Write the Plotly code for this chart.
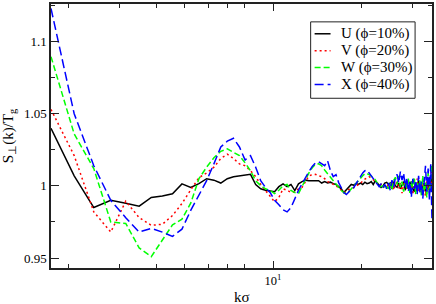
import math
import plotly.graph_objects as go

# wavevector grid: k = n * dk, n = 5..100
dk = math.pi / 9
n_index = list(range(5, 101))
k = [n * dk for n in n_index]

U_10 = [1.040, 1.007, 0.985, 0.990, 0.988, 0.986, 0.992, 0.993, 0.9945, 1.0014,
        0.999, 1.0016, 1.005, 1.004, 1.002, 1.005,
        1.0064, 1.007, 1.0078, 1.008, 1.001, 0.998, 0.997, 0.9964, 0.996, 0.9995,
        1.0014, 0.9995, 1.001, 0.9968, 1.0014, 1.003, 1.004, 1.0036, 1.0036, 1.004,
        1.0036, 1.002, 1.003, 1.002, 1.0026, 1.0016, 1.001, 0.9995, 0.998, 0.9954,
        0.9975, 0.9995, 1.001, 1.0005, 1.0016, 1.001, 1.002, 1.001, 1.0026, 1.0016,
        1.002, 1.003, 1.001, 1.0035, 1.002, 1.001, 0.999, 1.000, 1.002, 1.0025,
        1.001, 1.002, 0.998, 1.003, 1.000, 0.999, 1.002, 0.998, 1.001, 1.003,
        0.997, 1.002, 0.999, 1.001, 1.003, 0.998, 0.996, 1.002, 1.000, 1.004,
        0.997, 1.001, 0.998, 1.002, 0.996, 1.001, 0.997, 1.006, 1.000, 1.008]

V_20 = [1.053, 1.021, 0.982, 0.968, 0.9894, 0.978, 0.9727, 0.9734, 0.9795, 0.9878,
        0.9973, 1.0057, 1.009, 1.013, 1.019, 1.022,
        1.019, 1.0153, 1.014, 1.0105, 1.0064, 1.001, 0.9968, 0.9926, 0.989, 0.992,
        0.998, 0.997, 0.9954, 0.996, 0.998, 0.999, 1.0036, 1.007, 1.0078, 1.008,
        1.007, 1.0064, 1.005, 1.003, 1.0023, 1.001, 1.0002, 0.9988, 0.997, 0.9954,
        0.996, 0.9975, 0.998, 0.9988, 0.9995, 1.001, 1.0016, 1.0036, 1.005, 1.0057,
        1.0064, 1.005, 1.0043, 1.003, 1.0016, 1.0002, 1.001, 0.9995, 1.0002, 0.9988,
        1.001, 0.999, 1.002, 0.997, 1.001, 1.003, 0.998, 1.002, 0.995, 1.001,
        1.003, 0.998, 1.004, 0.996, 1.001, 0.994, 1.003, 0.999, 1.005, 0.996,
        1.002, 0.995, 1.004, 0.998, 0.993, 1.006, 0.997, 1.002, 0.999, 1.013]

W_30 = [1.0896, 1.036, 1.012, 0.975, 0.974, 0.957, 0.951, 0.962, 0.973, 0.977,
        0.988, 1.005, 1.013, 1.0195, 1.024, 1.0257,
        1.023, 1.021, 1.016, 1.0105, 1.0036, 1.0002, 0.998, 0.9968, 0.9947, 0.997,
        1.0002, 1.001, 0.9968, 0.9954, 0.9947, 0.9995, 1.005, 1.009, 1.0126, 1.015,
        1.0153, 1.014, 1.011, 1.0085, 1.0057, 1.003, 1.001, 0.9988, 0.9968, 0.9954,
        0.9947, 0.996, 0.998, 0.9995, 1.0016, 1.0036, 1.0057, 1.007, 1.0085, 1.0085,
        1.0078, 1.007, 1.0057, 1.0043, 1.002, 1.001, 0.9995, 1.0002, 0.998, 0.9995,
        0.998, 1.002, 0.997, 1.004, 1.006, 1.001, 1.007, 0.999, 1.003, 0.996,
        1.002, 0.998, 1.005, 0.995, 1.003, 0.999, 1.006, 0.994, 1.002, 0.997,
        1.004, 0.993, 1.007, 0.996, 1.003, 0.992, 1.009, 0.995, 1.004, 1.016]

X_40 = [1.123, 1.050, 1.014, 0.990, 0.978, 0.968, 0.9706, 0.968, 0.965, 0.970,
        0.983, 0.9933, 1.0036, 1.0153, 1.027, 1.031,
        1.033, 1.027, 1.018, 1.021, 1.013, 1.0036, 0.999, 0.9955, 0.990, 0.987,
        0.9835, 0.982, 0.985, 0.991, 0.997, 1.0015, 1.006, 1.010, 1.0135, 1.016,
        1.0167, 1.0153, 1.014, 1.0174, 1.0105, 1.0064, 1.0078, 1.0023, 0.9988, 0.9954,
        0.994, 0.996, 0.9975, 0.9988, 1.0016, 1.0043, 1.007, 1.009, 1.0105, 1.011,
        1.009, 1.007, 1.0057, 1.0036, 1.0016, 0.9995, 1.0016, 0.9988, 1.001, 0.998,
        1.002, 0.997, 1.004, 0.999, 1.006, 1.008, 1.002, 1.010, 1.004, 1.009,
        0.999, 1.006, 0.996, 1.003, 0.992, 1.005, 0.998, 1.004, 0.994, 1.007,
        0.995, 1.003, 0.991, 1.006, 1.014, 0.996, 1.012, 0.990, 1.015, 0.976]

names = ["U (ϕ=10%)", "V (ϕ=20%)", "W (ϕ=30%)", "X (ϕ=40%)"]
series = [U_10, V_20, W_30, X_40]
colors = ["#000000", "#ff0000", "#00ff00", "#0000ff"]
dashes = ["solid", "2px,3px", "6px,3px", "9px,4px"]

x_minor = [2, 3, 4, 5, 6, 7, 8, 20, 30]
y_major = [0.95, 1.0, 1.05, 1.1]
y_major_text = ["0.95", "1", "1.05", "1.1"]
y_minor = [0.975, 1.025, 1.075, 1.125]

FONT = "Liberation Serif, Times New Roman, serif"

fig = go.Figure()
for nm, ys, c, d in zip(names, series, colors, dashes):
    fig.add_trace(go.Scatter(x=k, y=ys, mode="lines", name=nm, showlegend=False,
                             line=dict(color=c, width=1.5, dash=d)))

# legend box drawn in paper coordinates (top-right inside the frame)
leg_x0, leg_x1, leg_y0, leg_y1 = 0.6815, 0.9556, 0.6429, 0.9323
row_y = [0.8872, 0.8233, 0.7594, 0.6955]
samp_x0, samp_x1, text_x = 0.6919, 0.7337, 0.7546

shapes = [dict(type="rect", xref="paper", yref="paper", x0=leg_x0, x1=leg_x1,
               y0=leg_y0, y1=leg_y1, line=dict(color="#222222", width=1),
               fillcolor="white", layer="above")]
annotations = []
for nm, c, d, ry in zip(names, colors, dashes, row_y):
    shapes.append(dict(type="line", xref="paper", yref="paper", x0=samp_x0, x1=samp_x1,
                       y0=ry, y1=ry, line=dict(color=c, width=1.5, dash=d), layer="above"))
    annotations.append(dict(text=nm, xref="paper", yref="paper", x=text_x, y=ry,
                            xanchor="left", yanchor="middle", showarrow=False,
                            font=dict(family=FONT, size=15, color="black")))
annotations.append(dict(text="kσ", xref="paper", yref="paper", x=0.5, y=-0.11,
                        xanchor="center", yanchor="middle", showarrow=False,
                        font=dict(family=FONT, size=15)))

fig.update_layout(
    width=436, height=304,
    margin=dict(l=51, r=2, t=2, b=36),
    paper_bgcolor="white", plot_bgcolor="white",
    font=dict(family=FONT, size=13, color="black"),
    shapes=shapes, annotations=annotations,
)
fig.update_xaxes(
    type="log", range=[math.log10(k[0]), math.log10(k[-1])],
    showgrid=False, zeroline=False,
    showline=True, linecolor="#222222", linewidth=1.5, mirror="allticks",
    ticks="inside", ticklen=7, tickwidth=1, tickcolor="#222222",
    tickvals=[10], ticktext=["10<sup>1</sup>"],
    tickfont=dict(family=FONT, size=12.5),
    minor=dict(tickvals=x_minor, ticks="inside", ticklen=4, tickcolor="#222222"),
)
fig.update_yaxes(
    range=[0.9431, 1.1261],
    showgrid=False, zeroline=False,
    showline=True, linecolor="#222222", linewidth=1.5, mirror="allticks",
    ticks="inside", ticklen=8, tickwidth=1, tickcolor="#222222",
    tickvals=y_major, ticktext=y_major_text,
    tickfont=dict(family=FONT, size=13),
    minor=dict(tickvals=y_minor, ticks="inside", ticklen=4, tickcolor="#222222"),
    title=dict(text="S<sub>⊥</sub>(k)/T<sub>g</sub>", font=dict(family=FONT, size=15),
               standoff=8),
)

fig.write_html("out.html", config={"displayModeBar": False},
               post_script="document.body.style.margin='0';")
